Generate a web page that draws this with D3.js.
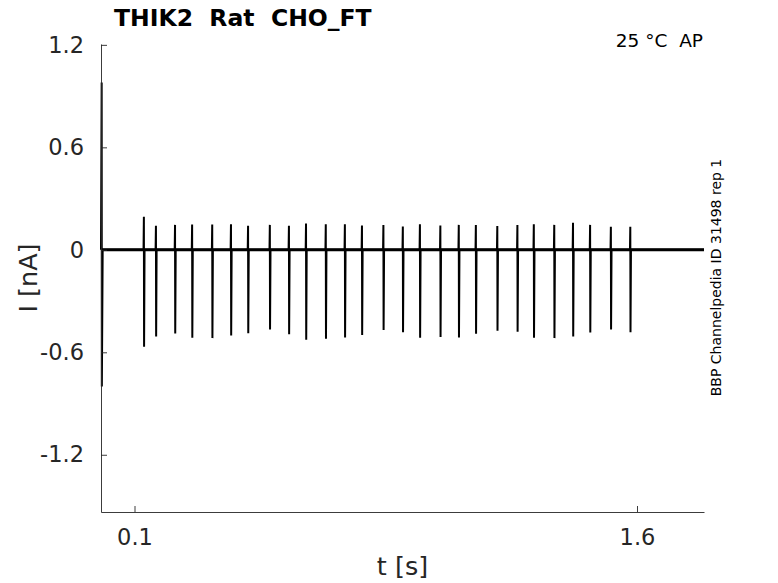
<!DOCTYPE html>
<html>
<head>
<meta charset="utf-8">
<script src="https://cdn.jsdelivr.net/npm/d3@7"></script>
<style>
  body { margin: 0; background: #fff; }
  svg { display: block; font-family: "DejaVu Sans", sans-serif; }
</style>
</head>
<body>
<div id="chart"></div>
<script>
// readings (t in s, I in nA)
const xTicks = [0.1, 1.6];
const yTicks = [1.2, 0.6, 0, -0.6, -1.2];
const traceStart = 0;
const traceEnd = 1.8;

// onset transient
const onsetTime = 0.002;
const onsetPeak = 0.98;
const onsetTrough = -0.8;

// spike (stimulus artefact) times and extremes
const spikeTimes = [0.128, 0.164, 0.221, 0.272, 0.332, 0.388, 0.439, 0.504, 0.561, 0.612,
  0.671, 0.728, 0.779, 0.843, 0.901, 0.952, 1.013, 1.068, 1.119, 1.183,
  1.243, 1.292, 1.353, 1.409, 1.460, 1.522, 1.580];
const spikePeaks = [0.193, 0.141, 0.146, 0.148, 0.148, 0.150, 0.141, 0.146, 0.141, 0.154,
  0.150, 0.150, 0.142, 0.145, 0.136, 0.150, 0.142, 0.146, 0.145, 0.139,
  0.145, 0.150, 0.146, 0.158, 0.146, 0.135, 0.135];
const spikeTroughs = [-0.568, -0.508, -0.490, -0.515, -0.517, -0.502, -0.488, -0.467, -0.494, -0.527,
  -0.521, -0.513, -0.498, -0.470, -0.482, -0.515, -0.511, -0.513, -0.492, -0.474,
  -0.480, -0.515, -0.517, -0.508, -0.484, -0.467, -0.482];

const width = 778, height = 583;
const margin = { left: 101, right: 74, top: 44, bottom: 71 };

const svg = d3.select("#chart").append("svg")
  .attr("width", width).attr("height", height);

const x = d3.scaleLinear().domain([traceStart, traceEnd])
  .range([margin.left, width - margin.right]);
const y = d3.scaleLinear().domain([-1.535, 1.205])
  .range([height - margin.bottom, margin.top]);

// build the trace point list from the readings
const pts = [[traceStart, 0], [onsetTime, onsetPeak], [onsetTime + 0.0005, onsetTrough], [onsetTime + 0.003, 0]];
spikeTimes.forEach((t, i) => {
  pts.push([t - 0.001, 0]);
  pts.push([t, spikePeaks[i]]);
  pts.push([t + 0.0006, spikeTroughs[i]]);
  pts.push([t + 0.002, 0]);
});
pts.push([traceEnd, 0]);

const line = d3.line().x(d => x(d[0])).y(d => y(d[1]));

// holding level (noisy band)
svg.append("line")
  .attr("x1", x(traceStart)).attr("x2", x(traceEnd))
  .attr("y1", y(0)).attr("y2", y(0))
  .attr("stroke", "#000").attr("stroke-width", 3);

svg.append("path")
  .datum(pts)
  .attr("d", line)
  .attr("fill", "none")
  .attr("stroke", "#000")
  .attr("stroke-width", 2)
  .attr("stroke-linejoin", "miter");

// axes, MATLAB style: ticks inward, no box, plain hyphen for minus
const fmt = d => d === 0 ? "0" : d.toFixed(1);

const gx = svg.append("g")
  .attr("transform", `translate(0,${height - margin.bottom})`)
  .call(d3.axisBottom(x).tickValues(xTicks).tickFormat(fmt)
    .tickSizeInner(-6).tickSizeOuter(0).tickPadding(17));

const gy = svg.append("g")
  .attr("transform", `translate(${margin.left},0)`)
  .call(d3.axisLeft(y).tickValues(yTicks).tickFormat(fmt)
    .tickSizeInner(-6).tickSizeOuter(0).tickPadding(17));

[gx, gy].forEach(g => {
  g.select(".domain").attr("stroke", "#262626").attr("stroke-width", 0.9);
  g.selectAll(".tick line").attr("stroke", "#262626").attr("stroke-width", 0.9);
  g.selectAll(".tick text").attr("fill", "#262626")
    .style("font-size", "22.5px").style("font-family", "DejaVu Sans");
});

// labels
svg.append("text")
  .attr("x", (margin.left + width - margin.right) / 2).attr("y", 575)
  .attr("text-anchor", "middle").attr("fill", "#262626")
  .style("font-size", "25.5px")
  .text("t [s]");

svg.append("text")
  .attr("transform", `translate(37,278) rotate(-90)`)
  .attr("text-anchor", "middle").attr("fill", "#262626")
  .style("font-size", "25.5px")
  .text("I [nA]");

svg.append("text")
  .attr("x", 114).attr("y", 26)
  .attr("fill", "#000")
  .style("font-size", "23.5px").style("font-weight", "bold")
  .style("white-space", "pre")
  .text("THIK2  Rat  CHO_FT");

svg.append("text")
  .attr("x", 703).attr("y", 47)
  .attr("text-anchor", "end").attr("fill", "#000")
  .style("font-size", "18.5px")
  .style("white-space", "pre")
  .text("25 °C  AP");

svg.append("text")
  .attr("transform", `translate(721,277.5) rotate(-90)`)
  .attr("text-anchor", "middle").attr("fill", "#000")
  .style("font-size", "14px")
  .text("BBP Channelpedia ID 31498 rep 1");
</script>
</body>
</html>
